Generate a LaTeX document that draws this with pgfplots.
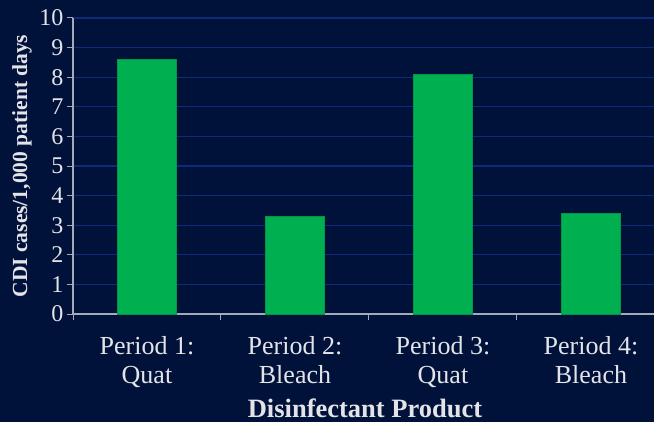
\documentclass[border=0pt]{standalone}
\usepackage{fontspec}
\setmainfont{Liberation Serif}
\usepackage{pgfplots}
\pgfplotsset{compat=1.18}
\definecolor{bg}{RGB}{0,18,58}
\definecolor{gridc}{RGB}{14,42,122}
\definecolor{barg}{RGB}{0,176,80}
\definecolor{txt}{RGB}{228,228,232}
\definecolor{axc}{RGB}{165,170,185}
\begin{document}
\begin{tikzpicture}[x=1bp,y=1bp]
\fill[bg] (0,0) rectangle (654,422);
\begin{axis}[
  at={(73bp,108bp)}, anchor=south west,
  scale only axis, width=581bp, height=296bp,
  xmin=-0.5, xmax=3.426, ymin=0, ymax=10,
  axis x line*=bottom, axis y line*=left,
  axis line style={axc, line width=1.2bp, -},
  ytick={0,1,...,10},
  ymajorgrids, grid style={gridc, line width=1.2bp},
  xtick={0,1,2,3},
  xticklabels={{Period 1:\\Quat},{Period 2:\\Bleach},{Period 3:\\Quat},{Period 4:\\Bleach}},
  major x tick style={draw=none},
  minor xtick={-0.5,0.5,1.5,2.5},
  tick align=outside, major tick length=6bp, minor tick length=6bp,
  tick style={axc, line width=1bp},
  every tick/.style={axc, line width=1bp},
  xticklabel style={align=center, font=\fontsize{26bp}{29bp}\selectfont, text=txt, yshift=-13bp},
  yticklabel style={font=\fontsize{24bp}{26bp}\selectfont, text=txt},
  /pgf/number format/assume math mode=true,
  ylabel={CDI cases/1,000 patient days},
  ylabel style={font=\bfseries\fontsize{21.5bp}{24bp}\selectfont, text=txt, at={(axis description cs:-0.0878,0.5)}, anchor=center},
  xlabel={Disinfectant Product},
  xlabel style={font=\bfseries\fontsize{26.5bp}{28bp}\selectfont, text=txt, at={(axis description cs:0.5026,-0.3176)}, anchor=center},
  ybar, bar width=59bp,
]
\addplot[fill=barg, draw=barg!85!black, line width=0.6bp] coordinates {(0,8.6) (1,3.3) (2,8.1) (3,3.4)};
\end{axis}
\pgfresetboundingbox
\useasboundingbox (0,0) rectangle (654,422);
\end{tikzpicture}
\end{document}
